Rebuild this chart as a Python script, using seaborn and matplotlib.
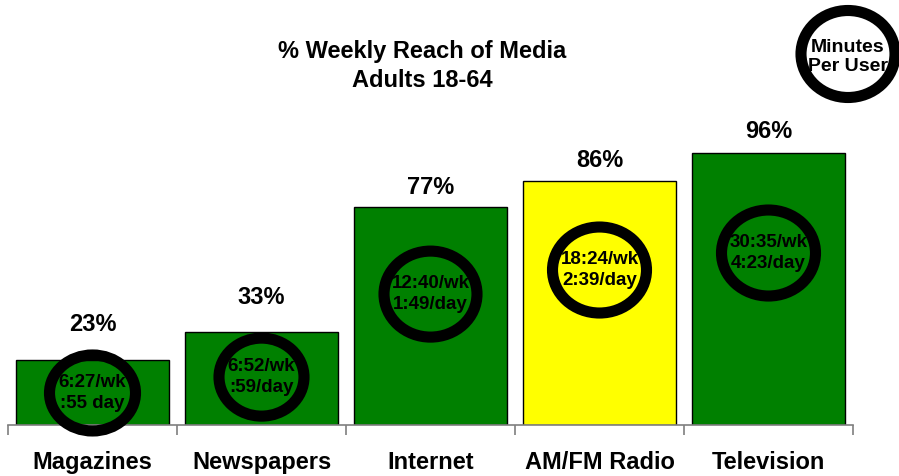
import matplotlib
matplotlib.use("Agg")
import matplotlib.pyplot as plt
from matplotlib.patches import Ellipse
import pandas as pd
import seaborn as sns

# Weekly reach of each medium, adults 18-64
categories = ["Magazines", "Newspapers", "Internet", "AM/FM Radio", "Television"]
reach_pct = [23, 33, 77, 86, 96]
weekly_time = ["6:27/wk", "6:52/wk", "12:40/wk", "18:24/wk", "30:35/wk"]
daily_time = [":55 day", ":59/day", "1:49/day", "2:39/day", "4:23/day"]
bar_colors = ["#008000", "#008000", "#008000", "#FFFF00", "#008000"]

title_text = "% Weekly Reach of Media\nAdults 18-64"
key_text = "Minutes\nPer User"

# Ring layout (height in data units, size in pixels)
ring_y = [11.3, 16.9, 46.2, 54.7, 60.7]
ring_w_px = [86, 85, 93, 94, 94]
ring_h_px = [76, 78, 86, 86, 86]
label_gap_px = [35, 34, 19, 21, 21]

W, H, DPI = 899, 476, 100
FONT = "Liberation Sans"

sns.set_theme(style="white")
plt.rcParams["font.family"] = [FONT, "DejaVu Sans"]
plt.rcParams["font.weight"] = "bold"
plt.rcParams["text.color"] = "black"

df = pd.DataFrame({"medium": categories, "reach": reach_pct})

fig = plt.figure(figsize=(W / DPI, H / DPI), dpi=DPI)
ax = fig.add_axes([8 / W, 51 / H, 845 / W, 425 / H])

sns.barplot(data=df, x="medium", y="reach", hue="medium",
            palette=bar_colors, legend=False, width=0.905,
            edgecolor="black", linewidth=1.0, saturation=1, ax=ax)

ax.set_xlim(-0.5, len(categories) - 0.5)
ax.set_ylim(0, 150)
ax.set_xlabel("")
ax.set_ylabel("")
ax.set_yticks([])
for side in ("top", "right", "left"):
    ax.spines[side].set_visible(False)
ax.spines["bottom"].set_color("#7f7f7f")
ax.spines["bottom"].set_linewidth(1.2)

# Category labels centered under bars, ticks between categories
ax.set_xticks(range(len(categories)))
ax.set_xticklabels(categories, fontsize=17, fontweight="bold", family=FONT,
                   color="black")
ax.tick_params(axis="x", which="major", length=0, pad=19)
ax.set_xticks([i - 0.5 for i in range(len(categories) + 1)], minor=True)
ax.tick_params(axis="x", which="minor", bottom=True, length=7, width=1.2,
               color="#7f7f7f", direction="out")

# Pixel to data conversion
px_x = (845 / len(categories))
px_y = 425 / 150

for i, (v, wk, dy) in enumerate(zip(reach_pct, weekly_time, daily_time)):
    ax.annotate(f"{v}%", xy=(i, v), xytext=(0, label_gap_px[i] * 72 / DPI),
                textcoords="offset points", ha="center", va="center",
                fontsize=17, fontweight="bold", family=FONT, color="black")
    ring = Ellipse((i, ring_y[i]), ring_w_px[i] / px_x, ring_h_px[i] / px_y,
                   facecolor="none", edgecolor="black", linewidth=8.0,
                   clip_on=False, zorder=5)
    ax.add_patch(ring)
    ax.text(i, ring_y[i], f"{wk}\n{dy}", ha="center", va="center",
            fontsize=13.5, fontweight="bold", family=FONT, linespacing=1.25,
            color="black", zorder=6)

fig.text(422 / W, 1 - 66 / H, title_text, ha="center", va="center",
         fontsize=17, fontweight="bold", family=FONT, linespacing=1.3,
         color="black")

key_ring = Ellipse((848 / W, 1 - 54 / H), 94 / W, 87 / H,
                   transform=fig.transFigure, facecolor="none",
                   edgecolor="black", linewidth=8.0, clip_on=False)
fig.patches.append(key_ring)
fig.text(848 / W, 1 - 57 / H, key_text, ha="center", va="center",
         fontsize=14, fontweight="bold", family=FONT, linespacing=1.2,
         color="black")

fig.savefig("out.png", dpi=DPI)
